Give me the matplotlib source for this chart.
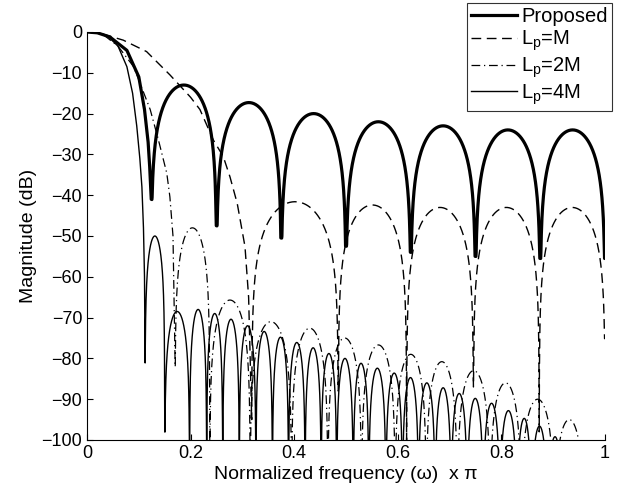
import numpy as np
import matplotlib
matplotlib.use('Agg')
import matplotlib.pyplot as plt

plt.rcParams['font.family'] = ['Liberation Sans', 'DejaVu Sans']
plt.rcParams['mathtext.fontset'] = 'custom'
plt.rcParams['mathtext.rm'] = 'Liberation Sans'

# ---- values (frequency x pi, dB) ----
# main lobes as read point by point
prop_main_w = [0, 0.02, 0.044, 0.077, 0.1, 0.111, 0.118, 0.121, 0.124]
prop_main_db = [0, -0.2, -1.2, -4.5, -11, -19, -27, -33, -41]
# side lobes: null positions, depth at each null, peak of each lobe
prop_nulls = [0.124, 0.25, 0.375, 0.5, 0.625, 0.75, 0.875, 1.0]
prop_depth = [-41, -47.5, -50.5, -52.5, -54, -55, -55.5, -55.5]
prop_peaks = [-13, -17.3, -20, -22, -23, -24, -24]

m1_main_w = [0, 0.025, 0.07, 0.115, 0.16, 0.2, 0.218, 0.244, 0.263, 0.276, 0.29, 0.305, 0.312, 0.318]
m1_main_db = [0, -0.3, -2, -4.8, -10.5, -16, -19, -26.5, -30.5, -35.5, -42, -52.6, -65, -95]
m1_nulls = [0.318, 0.485, 0.617, 0.746, 0.873, 1.0]
m1_depth = [-95, -88, -100, -87, -98, -75]
m1_peaks = [-41.6, -42.4, -43, -43, -43]

m2_main_w = [0, 0.03, 0.06, 0.09, 0.105, 0.122, 0.138, 0.154, 0.16, 0.166, 0.17]
m2_main_db = [0, -0.5, -3.5, -8.5, -13.4, -19, -26.5, -34.6, -40.4, -50, -82]
m2_nulls = [0.17, 0.237, 0.315, 0.395, 0.465, 0.53, 0.595, 0.655, 0.715, 0.778, 0.838, 0.902, 0.96]
m2_depth = [-82, -105, -105, -105, -105, -105, -105, -105, -105, -105, -105, -105, -105]
m2_peaks = [-48, -65.7, -71, -72.6, -75, -76.7, -79, -80.8, -83, -86, -90, -95]

m4_main_w = [0, 0.02, 0.04, 0.06, 0.077, 0.088, 0.096, 0.102, 0.106, 0.109, 0.111, 0.112]
m4_main_db = [0, -0.2, -1, -3.5, -8.5, -15, -23, -31, -38, -48, -60, -81]
m4_nulls = [0.112, 0.15, 0.198, 0.231, 0.262, 0.294, 0.326, 0.358, 0.389, 0.421,
            0.452, 0.482, 0.514, 0.544, 0.577, 0.609, 0.64, 0.672, 0.703, 0.734,
            0.765, 0.797, 0.83, 0.858, 0.889, 0.918]
m4_depth = [-81, -98] + [-105] * 24
m4_peaks = [-50, -68.5, -68, -69, -70.4, -72, -73.4, -74.8, -76.1, -77.4, -78.8, -80,
            -81.2, -82.4, -83.6, -84.7, -86, -87.2, -88.6, -89.8, -91, -92.8, -94.7,
            -96.6, -99.2]


def build(main_w, main_db, nulls, depth, peaks):
    # join main lobe points with arch-shaped side lobes between the nulls
    xs = list(main_w)
    ys = list(main_db)
    t = np.linspace(0, 1, 300)[1:]
    for i in range(len(peaks)):
        a, b = nulls[i], nulls[i + 1]
        arch = peaks[i] + 20 * np.log10(np.sin(np.pi * t) + 1e-9)
        floor = depth[i] * (1 - t) + depth[i + 1] * t
        xs += list(a + (b - a) * t)
        ys += list(np.maximum(arch, floor))
    return np.array(xs), np.array(ys)


fig = plt.figure(figsize=(6.22, 4.95), dpi=100)
ax = fig.add_axes([87 / 622, 1 - 440 / 495, 518 / 622, 408 / 495])

x, y = build(prop_main_w, prop_main_db, prop_nulls, prop_depth, prop_peaks)
ax.plot(x, y, color='black', lw=2.3, solid_joinstyle='round', label='Proposed')
x, y = build(m1_main_w, m1_main_db, m1_nulls, m1_depth, m1_peaks)
ax.plot(x, y, color='black', lw=1.0, dashes=(7, 4), label=r'L$_\mathregular{p}$=M')
x, y = build(m2_main_w, m2_main_db, m2_nulls, m2_depth, m2_peaks)
ax.plot(x, y, color='black', lw=0.9, dashes=(7, 3, 1, 3), label=r'L$_\mathregular{p}$=2M')
x, y = build(m4_main_w, m4_main_db, m4_nulls, m4_depth, m4_peaks)
ax.plot(x, y, color='black', lw=1.0, label=r'L$_\mathregular{p}$=4M')

ax.set_xlim(0, 1)
ax.set_ylim(-100, 0)
ax.set_xticks([0, 0.2, 0.4, 0.6, 0.8, 1])
ax.set_xticklabels(['0', '0.2', '0.4', '0.6', '0.8', '1'])
ax.set_yticks(np.arange(-100, 1, 10))
ax.tick_params(direction='in', labelsize=13, length=4, width=0.8)
ax.spines['top'].set_visible(False)
ax.spines['right'].set_visible(False)
ax.set_xlabel('Normalized frequency (ω)  x π', fontsize=14, labelpad=3)
ax.set_ylabel('Magnitude (dB)', fontsize=14, labelpad=3)

leg = ax.legend(loc='upper right', bbox_to_anchor=(612 / 622, 1 - 3 / 495),
                bbox_transform=fig.transFigure, fontsize=14.5, frameon=True,
                fancybox=False, edgecolor='black', borderaxespad=0,
                handlelength=2.3, labelspacing=0.12, handletextpad=0.2,
                borderpad=0.2)
leg.get_frame().set_linewidth(0.8)

fig.savefig('out.png', dpi=100)
